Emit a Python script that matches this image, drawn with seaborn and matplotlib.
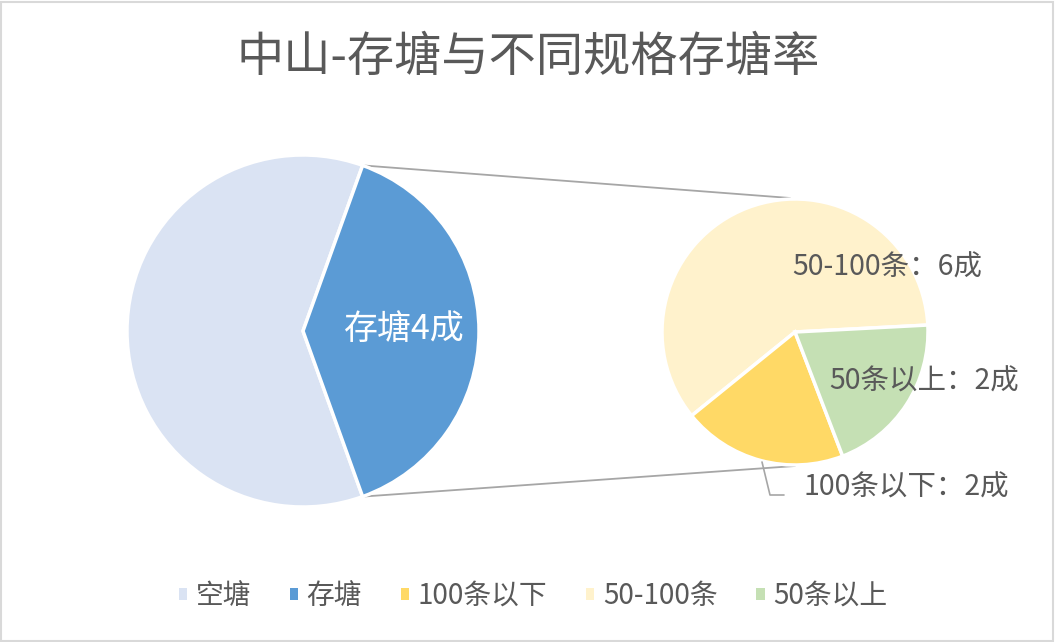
import matplotlib
matplotlib.use("Agg")
import matplotlib.pyplot as plt
from matplotlib.patches import Rectangle, Patch
import numpy as np
import seaborn as sns

# ---- data ----
main_labels = ["空塘", "存塘"]
main_values = [61, 39]
sub_labels = ["50-100条", "100条以下", "50条以上"]
sub_values = [6, 2, 2]
sub_text = ["50-100条：6成", "100条以下：2成", "50条以上：2成"]
main_text = "存塘4成"
legend_order = ["空塘", "存塘", "100条以下", "50-100条", "50条以上"]
title = "中山-存塘与不同规格存塘率"

colors = {
    "空塘": "#DAE3F3",
    "存塘": "#5B9BD5",
    "100条以下": "#FFD966",
    "50-100条": "#FFF2CC",
    "50条以上": "#C5E0B4",
}

sns.set_theme(style="white")
plt.rcParams["font.family"] = ["Noto Sans CJK SC", "DejaVu Sans"]
TXT = "#595959"

W, H = 1055, 642
fig = plt.figure(figsize=(W / 100, H / 100), dpi=100)
ax = fig.add_axes([0, 0, 1, 1])

# frame
fig.patches.append(Rectangle((1, 1), W - 3, H - 3, transform=None, fill=False,
                             edgecolor="#D9D9D9", linewidth=1.5))

# left pie
c1 = (303, H - 331)
r1 = 176
other_share = main_values[1] / sum(main_values)
start1 = other_share * 180.0
w1, _ = ax.pie(main_values, colors=[colors[l] for l in main_labels],
               startangle=start1, center=c1, radius=r1, counterclock=True,
               wedgeprops=dict(edgecolor="white", linewidth=2.5), frame=True)

# right pie
c2 = (795, H - 332)
r2 = 133
w2, _ = ax.pie(sub_values, colors=[colors[l] for l in sub_labels],
               startangle=3, center=c2, radius=r2, counterclock=True,
               wedgeprops=dict(edgecolor="white", linewidth=2.5), frame=True)
ax.set_xlim(0, W)
ax.set_ylim(0, H)
ax.set_axis_off()
ax.set_aspect("equal")

# connector lines
wd = w1[1]
t1, t2 = np.deg2rad(wd.theta1), np.deg2rad(wd.theta2)
p_top = (c1[0] + r1 * np.cos(t2), c1[1] + r1 * np.sin(t2))
p_bot = (c1[0] + r1 * np.cos(t1), c1[1] + r1 * np.sin(t1))
ax.plot([p_top[0], c2[0] - 5], [p_top[1], c2[1] + r2 + 1], color="#A6A6A6", lw=1.3, zorder=0)
ax.plot([p_bot[0], c2[0]], [p_bot[1], c2[1] - r2 - 1], color="#A6A6A6", lw=1.3, zorder=0)

# labels
ax.text(404, H - 329, main_text, color="white", fontsize=24.5, ha="center", va="center")
ax.text(887, H - 268, sub_text[0], color=TXT, fontsize=20.5, ha="center", va="center")
ax.text(924, H - 382, sub_text[2], color=TXT, fontsize=20.5, ha="center", va="center")
ax.text(906, H - 488, sub_text[1], color=TXT, fontsize=20.5, ha="center", va="center")
ax.plot([762, 770, 784], [H - 462, H - 495, H - 495], color="#A6A6A6", lw=1.2)

# title
ax.text(528, H - 58, title, color=TXT, fontsize=34, ha="center", va="center")

# legend
handles = [Patch(facecolor=colors[l], edgecolor="none", label=l) for l in legend_order]
leg = fig.legend(handles=handles, loc="center", bbox_to_anchor=(533 / W, 1 - 596 / H),
                 ncol=5, frameon=False, fontsize=20, handlelength=0.3, handleheight=0.3,
                 handletextpad=0.3, columnspacing=1.4, labelcolor=TXT)

fig.savefig("out.png", dpi=100, facecolor="white")
